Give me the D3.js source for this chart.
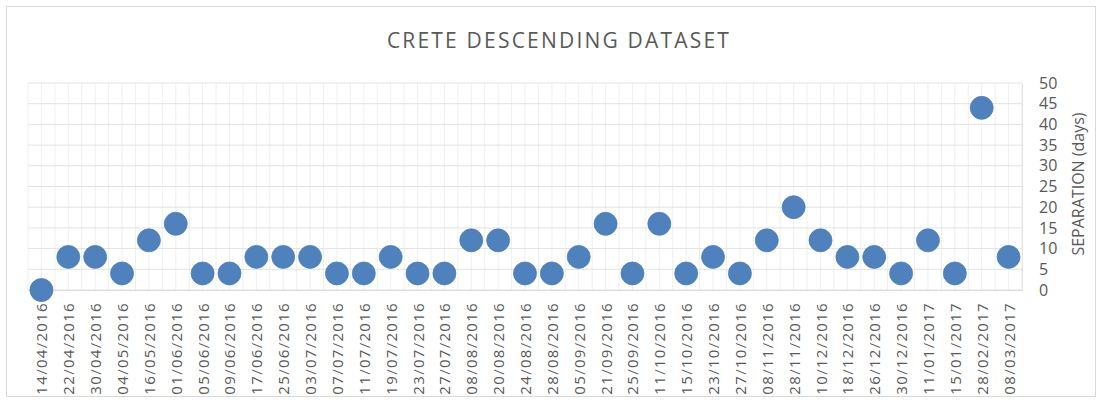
<!DOCTYPE html>
<html>
<head>
<meta charset="utf-8">
<script src="https://cdn.jsdelivr.net/npm/d3@7"></script>
<style>
  body { margin: 0; background: #fff; }
  text { font-family: "Open Sans", sans-serif; fill: #595959; }
</style>
</head>
<body>
<div id="chart"></div>
<script>
// 資料
const dates = ["14/04/2016", "22/04/2016", "30/04/2016", "04/05/2016", "16/05/2016", "01/06/2016",
  "05/06/2016", "09/06/2016", "17/06/2016", "25/06/2016", "03/07/2016", "07/07/2016", "11/07/2016",
  "19/07/2016", "23/07/2016", "27/07/2016", "08/08/2016", "20/08/2016", "24/08/2016", "28/08/2016",
  "05/09/2016", "21/09/2016", "25/09/2016", "11/10/2016", "15/10/2016", "23/10/2016", "27/10/2016",
  "08/11/2016", "28/11/2016", "10/12/2016", "18/12/2016", "26/12/2016", "30/12/2016", "11/01/2017",
  "15/01/2017", "28/02/2017", "08/03/2017"];
const separation = [0, 8, 8, 4, 12, 16, 4, 4, 8, 8, 8, 4, 4, 8, 4, 4, 12, 12, 4, 4, 8, 16, 4, 16, 4, 8, 4,
  12, 20, 12, 8, 8, 4, 12, 4, 44, 8];
const yTicks = [0, 5, 10, 15, 20, 25, 30, 35, 40, 45, 50];

// 尺寸
const width = 1102;
const height = 400;
const plot = { left: 28, right: 1022, top: 83, bottom: 290 };

const svg = d3.select("#chart")
  .append("svg")
  .attr("width", width)
  .attr("height", height);

// 外框
svg.append("rect")
  .attr("x", 6.5).attr("y", 6.5)
  .attr("width", width - 13).attr("height", height - 10)
  .attr("fill", "#fff")
  .attr("stroke", "#d9d9d9");

const x = d3.scaleBand().domain(dates).range([plot.left, plot.right]).padding(0);
const y = d3.scaleLinear().domain([0, 50]).range([plot.bottom, plot.top]);

// 垂直格線 (每半格)
const halfLines = d3.range(dates.length * 2 + 1).map(i => plot.left + i * x.bandwidth() / 2);
svg.append("g")
  .selectAll("line")
  .data(halfLines)
  .join("line")
  .attr("x1", d => d).attr("x2", d => d)
  .attr("y1", plot.top).attr("y2", plot.bottom)
  .attr("stroke", "#efefef");

// 水平格線
svg.append("g")
  .selectAll("line")
  .data(yTicks)
  .join("line")
  .attr("x1", plot.left).attr("x2", plot.right)
  .attr("y1", d => y(d)).attr("y2", d => y(d))
  .attr("stroke", "#e3e3e3");

// 右側 y 軸
const yAxis = svg.append("g")
  .attr("transform", `translate(${plot.right},0)`)
  .call(d3.axisRight(y).tickValues(yTicks).tickSize(0).tickPadding(17));
yAxis.select(".domain").attr("stroke", "#e3e3e3");
yAxis.selectAll("text").style("font-size", "16px").attr("fill", "#595959");

// x 軸
const xAxis = svg.append("g")
  .attr("transform", `translate(0,${plot.bottom})`)
  .call(d3.axisBottom(x).tickSize(0).tickPadding(0));
xAxis.select(".domain").attr("stroke", "#d9d9d9");
xAxis.selectAll("text")
  .style("font-size", "15px")
  .style("letter-spacing", "1.3px")
  .attr("fill", "#595959")
  .attr("transform", "rotate(-90)")
  .attr("text-anchor", "end")
  .attr("dy", "0.4em")
  .attr("x", -12)
  .attr("y", 0);

// 點
svg.append("g")
  .selectAll("circle")
  .data(separation)
  .join("circle")
  .attr("cx", (d, i) => x(dates[i]) + x.bandwidth() / 2)
  .attr("cy", d => y(d))
  .attr("r", 11.5)
  .attr("fill", "#4f81bd")
  .attr("stroke", "#4a7ebb")
  .attr("stroke-width", 0.75);

// 標題
svg.append("text")
  .attr("x", 559)
  .attr("y", 48)
  .attr("text-anchor", "middle")
  .style("font-size", "21px")
  .style("letter-spacing", "2.2px")
  .text("CRETE DESCENDING DATASET");

// y 軸標題
svg.append("text")
  .attr("transform", `translate(1084,184) rotate(-90)`)
  .attr("text-anchor", "middle")
  .style("font-size", "16px")
  .text("SEPARATION (days)");
</script>
</body>
</html>
